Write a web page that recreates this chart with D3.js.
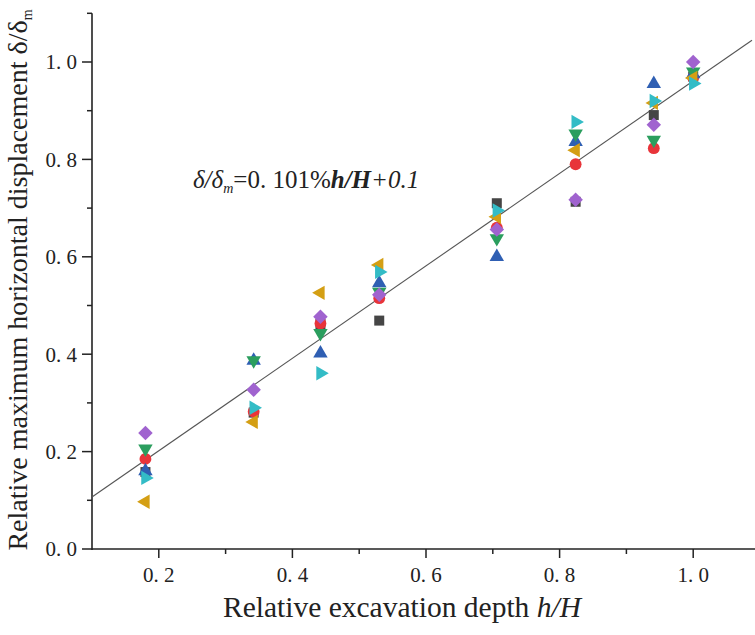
<!DOCTYPE html>
<html>
<head>
<meta charset="utf-8">
<script src="https://cdn.jsdelivr.net/npm/d3@7"></script>
<style>
  body { margin: 0; background: #fff; }
  svg { display: block; }
</style>
</head>
<body>
<script>
// Relative excavation depth for each group of measurements
var depth = [0.18, 0.342, 0.442, 0.53, 0.706, 0.824, 0.941, 1.0];

// one list per monitoring series
var sSquare  = [0.158, 0.280, 0.462, 0.469, 0.710, 0.713, 0.891, 0.970];
var sCircle  = [0.185, 0.282, 0.463, 0.515, 0.660, 0.790, 0.823, 0.968];
var sUp      = [0.160, 0.387, 0.402, 0.546, 0.600, 0.836, 0.955, 0.975];
var sDown    = [0.206, 0.387, 0.443, 0.528, 0.638, 0.853, 0.840, 0.980];
var sDiamond = [0.238, 0.327, 0.477, 0.522, 0.656, 0.717, 0.871, 1.000];
var sLeft    = [0.097, 0.261, 0.526, 0.583, 0.682, 0.819, 0.916, 0.967];
var sRight   = [0.146, 0.290, 0.361, 0.569, 0.695, 0.877, 0.920, 0.956];

// fitted line
var fitSlope = 0.949;
var fitIntercept = 0.012;
var fitRange = [0.1, 1.088];

var xTicks = [0.2, 0.4, 0.6, 0.8, 1.0];
var xMinor = [0.3, 0.5, 0.7, 0.9];
var yTicks = [0.0, 0.2, 0.4, 0.6, 0.8, 1.0];
var yMinor = [0.1, 0.3, 0.5, 0.7, 0.9, 1.1];

var width = 755, height = 635;
var serif = "'Liberation Serif', 'Times New Roman', 'DejaVu Serif', serif";

var x = d3.scaleLinear().domain([0.1, 1.1]).range([92, 760]);
var y = d3.scaleLinear().domain([0, 1.1]).range([549, 13.3]);

var svg = d3.select("body").append("svg")
    .attr("width", width)
    .attr("height", height)
    .attr("font-family", serif)
    .attr("fill", "#222");

var fmt = function(d) { return d.toFixed(1).replace(".", ". "); };

// x axis
var gx = svg.append("g").attr("transform", "translate(0," + y(0) + ")");
gx.append("line").attr("x1", x(0.1)).attr("x2", width).attr("stroke", "#222").attr("stroke-width", 1.6);
gx.selectAll(".maj").data(xTicks).enter().append("line")
    .attr("x1", x).attr("x2", x).attr("y1", 0).attr("y2", 9)
    .attr("stroke", "#222").attr("stroke-width", 1.5);
gx.selectAll(".min").data(xMinor).enter().append("line")
    .attr("x1", x).attr("x2", x).attr("y1", 0).attr("y2", 5)
    .attr("stroke", "#222").attr("stroke-width", 1.5);
gx.selectAll("text").data(xTicks).enter().append("text")
    .attr("x", x).attr("y", 33)
    .attr("text-anchor", "middle")
    .style("font-size", "21px")
    .text(fmt);

// y axis
var gy = svg.append("g").attr("transform", "translate(" + x(0.1) + ",0)");
gy.append("line").attr("y1", y(0) + 1).attr("y2", y(1.1)).attr("stroke", "#222").attr("stroke-width", 1.6);
gy.selectAll(".maj").data(yTicks).enter().append("line")
    .attr("y1", y).attr("y2", y).attr("x1", 0).attr("x2", -10)
    .attr("stroke", "#222").attr("stroke-width", 1.5);
gy.selectAll(".min").data(yMinor).enter().append("line")
    .attr("y1", y).attr("y2", y).attr("x1", 0).attr("x2", -5)
    .attr("stroke", "#222").attr("stroke-width", 1.5);
gy.selectAll("text").data(yTicks).enter().append("text")
    .attr("x", -15).attr("y", y).attr("dy", "0.35em")
    .attr("text-anchor", "end")
    .style("font-size", "21px")
    .text(fmt);

// axis titles
var xt = svg.append("text")
    .attr("x", 402).attr("y", 617)
    .attr("text-anchor", "middle")
    .style("font-size", "29.5px");
xt.append("tspan").text("Relative excavation depth ");
xt.append("tspan").style("font-style", "italic").text("h/H");

var yt = svg.append("text")
    .attr("transform", "translate(27,280) rotate(-90)")
    .attr("text-anchor", "middle")
    .style("font-size", "28px");
yt.append("tspan").text("Relative maximum horizontal displacement  \u03b4/\u03b4");
yt.append("tspan").attr("dy", 5).style("font-size", "14px").text("m");

// fitted line
svg.append("line")
    .attr("x1", x(fitRange[0])).attr("y1", y(fitSlope * fitRange[0] + fitIntercept))
    .attr("x2", x(fitRange[1])).attr("y2", y(fitSlope * fitRange[1] + fitIntercept))
    .attr("stroke", "#555").attr("stroke-width", 1.1);

// equation
var eq = svg.append("text").attr("x", 193).attr("y", 188).style("font-size", "25px");
eq.append("tspan").style("font-style", "italic").text("\u03b4/\u03b4");
eq.append("tspan").attr("dy", 5).style("font-size", "14px").style("font-style", "italic").text("m");
eq.append("tspan").attr("dy", -5).text("=0. 101%");
eq.append("tspan").style("font-style", "italic").style("font-weight", "bold").text("h/H");
eq.append("tspan").style("font-style", "italic").text("+0.1");

// markers
var series = [
    { vals: sSquare,  color: "#454545", sym: d3.symbolSquare,   size: 100, rot: 0 },
    { vals: sCircle,  color: "#e8343a", sym: d3.symbolCircle,   size: 110, rot: 0 },
    { vals: sUp,      color: "#2f5fb3", sym: d3.symbolTriangle, size: 90,  rot: 0 },
    { vals: sDown,    color: "#2b9e5e", sym: d3.symbolTriangle, size: 90,  rot: 180 },
    { vals: sDiamond, color: "#a063cf", sym: d3.symbolSquare,   size: 105, rot: 45 },
    { vals: sLeft,    color: "#d49f14", sym: d3.symbolTriangle, size: 90,  rot: -90 },
    { vals: sRight,   color: "#33bcc6", sym: d3.symbolTriangle, size: 90,  rot: 90 }
];

series.forEach(function(s) {
    svg.append("g").selectAll("path")
        .data(s.vals)
        .enter()
        .append("path")
        .attr("d", d3.symbol().type(s.sym).size(s.size))
        .attr("transform", function(d, i) {
            return "translate(" + x(depth[i]) + "," + y(d) + ") rotate(" + s.rot + ")";
        })
        .attr("fill", s.color);
});
</script>
</body>
</html>
